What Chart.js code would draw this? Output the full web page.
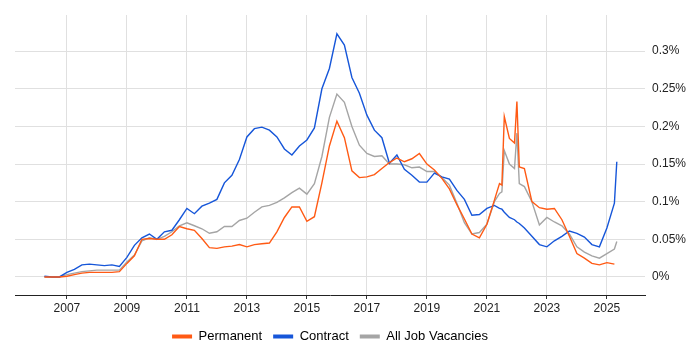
<!DOCTYPE html>
<html>
<head>
<meta charset="utf-8">
<script src="https://cdn.jsdelivr.net/npm/chart.js@4/dist/chart.umd.min.js"></script>
<style>
  html, body { margin: 0; padding: 0; background: #fff; }
  #wrap { width: 700px; height: 350px; }
</style>
</head>
<body>
<div id="wrap"><canvas id="chart"></canvas></div>
<script>
// sample dates (decimal years)
const dates = [
  2006.25, 2006.5, 2006.75, 2007, 2007.25, 2007.5, 2007.75, 2008, 2008.25, 2008.5, 2008.75,
  2009, 2009.25, 2009.5, 2009.75, 2010, 2010.25, 2010.5, 2010.75, 2011, 2011.25,
  2011.5, 2011.75, 2012, 2012.25, 2012.5, 2012.75, 2013, 2013.25, 2013.5, 2013.75,
  2014, 2014.25, 2014.5, 2014.75, 2015, 2015.25, 2015.5, 2015.75, 2016, 2016.25,
  2016.5, 2016.75, 2017, 2017.25, 2017.5, 2017.75, 2018, 2018.25, 2018.5, 2018.75,
  2019, 2019.25, 2019.5, 2019.75, 2020, 2020.25, 2020.5, 2020.75,
  2021, 2021.25, 2021.42, 2021.5, 2021.58, 2021.75, 2021.92, 2022, 2022.08, 2022.25,
  2022.5, 2022.75, 2023, 2023.25, 2023.5, 2023.75, 2024, 2024.25, 2024.5, 2024.75, 2025, 2025.25,
  2025.33
];

// values in percent
const permanent = [
  0, 0, 0, 0.001, 0.003, 0.005, 0.006, 0.006, 0.006, 0.006, 0.007,
  0.018, 0.028, 0.050, 0.051, 0.050, 0.050, 0.056, 0.067, 0.064, 0.062,
  0.051, 0.039, 0.038, 0.040, 0.041, 0.043, 0.040, 0.043, 0.044, 0.045,
  0.060, 0.079, 0.093, 0.093, 0.074, 0.080, 0.125, 0.174, 0.207, 0.185,
  0.141, 0.132, 0.133, 0.136, 0.144, 0.152, 0.158, 0.153, 0.157, 0.164,
  0.150, 0.142, 0.131, 0.117, 0.096, 0.077, 0.057, 0.052,
  0.070, 0.102, 0.124, 0.122, 0.213, 0.184, 0.178, 0.233, 0.146, 0.144,
  0.100, 0.092, 0.090, 0.091, 0.076, 0.054, 0.031, 0.025, 0.018, 0.016, 0.019, 0.017,
  null
];

const contract = [
  0.001, 0, 0, 0.006, 0.010, 0.016, 0.017, 0.016, 0.015, 0.016, 0.014,
  0.026, 0.042, 0.052, 0.057, 0.050, 0.060, 0.062, 0.076, 0.091, 0.084,
  0.094, 0.098, 0.103, 0.125, 0.135, 0.156, 0.186, 0.197, 0.199, 0.195,
  0.186, 0.170, 0.162, 0.174, 0.182, 0.198, 0.250, 0.277, 0.323, 0.308,
  0.265, 0.244, 0.215, 0.195, 0.185, 0.151, 0.162, 0.143, 0.135, 0.126,
  0.126, 0.138, 0.133, 0.130, 0.115, 0.103, 0.082, 0.083,
  0.091, 0.095, 0.091, 0.090, 0.086, 0.079, 0.076, 0.073, 0.071, 0.065,
  0.054, 0.043, 0.040, 0.048, 0.054, 0.061, 0.058, 0.053, 0.043, 0.040, 0.065, 0.098,
  0.153
];

const allJobs = [
  0, 0, 0, 0.003, 0.005, 0.007, 0.008, 0.009, 0.009, 0.009, 0.009,
  0.020, 0.029, 0.048, 0.052, 0.050, 0.054, 0.060, 0.068, 0.072, 0.068,
  0.064, 0.058, 0.060, 0.067, 0.067, 0.075, 0.078, 0.086, 0.093, 0.095,
  0.099, 0.105, 0.112, 0.118, 0.110, 0.124, 0.160, 0.212, 0.243, 0.232,
  0.200, 0.175, 0.164, 0.160, 0.161, 0.150, 0.150, 0.149, 0.145, 0.146,
  0.140, 0.140, 0.132, 0.122, 0.098, 0.072, 0.057, 0.059,
  0.070, 0.100, 0.111, 0.113, 0.168, 0.150, 0.144, 0.191, 0.124, 0.120,
  0.100, 0.069, 0.079, 0.073, 0.068, 0.057, 0.040, 0.033, 0.028, 0.025, 0.031, 0.037,
  0.047
];

const yearTicks = [2007, 2009, 2011, 2013, 2015, 2017, 2019, 2021, 2023, 2025];
const pctTicks = [0, 0.05, 0.1, 0.15, 0.2, 0.25, 0.3];

const font = { family: 'Arial, "Liberation Sans", sans-serif', size: 12 };

function pts(values) {
  return dates.map((d, i) => ({ x: d, y: values[i] }));
}

function line(label, values, color) {
  return {
    label: label,
    data: pts(values),
    borderColor: color,
    backgroundColor: color,
    borderWidth: 1.4,
    pointRadius: 0,
    tension: 0,
    spanGaps: false
  };
}

new Chart(document.getElementById('chart'), {
  type: 'line',
  data: {
    datasets: [
      line('Permanent', permanent, '#ff5a14'),
      line('Contract', contract, '#1656d9'),
      line('All Job Vacancies', allJobs, '#a5a5a5')
    ]
  },
  options: {
    responsive: true,
    maintainAspectRatio: false,
    animation: false,
    layout: { padding: { left: 15, top: 15, right: 0, bottom: -3 } },
    plugins: {
      tooltip: { enabled: false },
      legend: {
        position: 'bottom',
        fullSize: false,
        labels: {
          font: { family: font.family, size: 13 },
          color: '#222',
          boxWidth: 20,
          boxHeight: 4,
          padding: 11,
          generateLabels: chart => chart.data.datasets.map((ds, i) => ({
            text: ds.label,
            fillStyle: ds.borderColor,
            strokeStyle: ds.borderColor,
            lineWidth: 0,
            datasetIndex: i
          }))
        }
      }
    },
    scales: {
      x: {
        type: 'linear',
        min: 2005.27,
        max: 2026.27,
        afterBuildTicks: s => { s.ticks = yearTicks.map(v => ({ value: v })); },
        afterFit: s => { s.height = 24; },
        ticks: {
          font: font,
          color: '#222',
          padding: 2,
          maxRotation: 0,
          callback: v => String(v)
        },
        grid: { color: '#e0e0e0', tickColor: '#333', tickLength: 4, drawTicks: true },
        border: { color: '#222', width: 1 }
      },
      y: {
        position: 'right',
        min: -0.024,
        max: 0.348,
        afterBuildTicks: s => { s.ticks = pctTicks.map(v => ({ value: v })); },
        afterFit: s => { s.width = 55; },
        ticks: {
          font: font,
          color: '#222',
          padding: 7,
          callback: v => v + '%'
        },
        grid: { color: '#e0e0e0', drawTicks: false },
        border: { display: false }
      }
    }
  }
});
</script>
</body>
</html>
